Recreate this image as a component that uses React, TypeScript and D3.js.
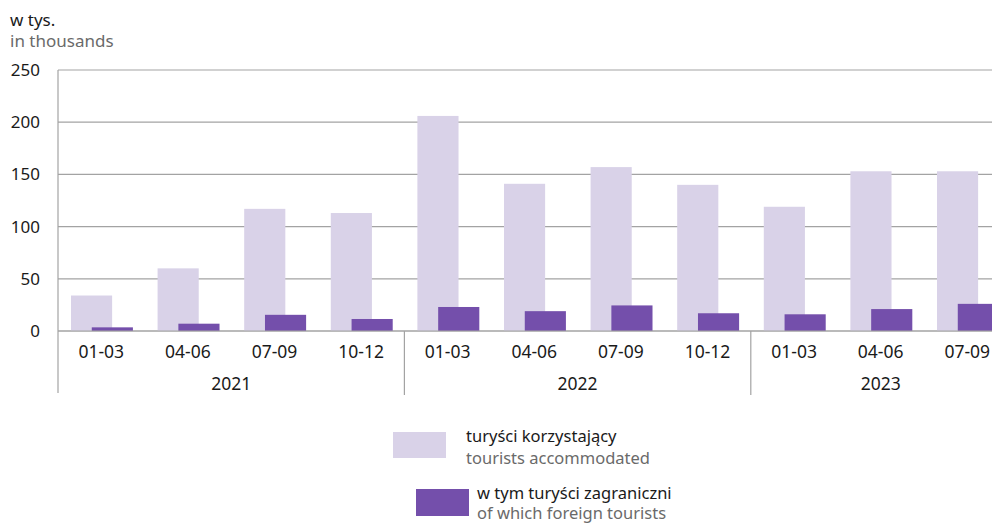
import * as d3 from "d3";
import React from "react";

const years = ["2021", "2022", "2023"];
const quarters = [
    ["01-03", "04-06", "07-09", "10-12"],
    ["01-03", "04-06", "07-09", "10-12"],
    ["01-03", "04-06", "07-09"],
];
const accommodated = [34, 60, 117, 113, 206, 141, 157, 140, 119, 153, 153];
const foreign = [3.5, 7, 15.5, 11.5, 23, 19, 24.5, 17, 16, 21, 26];
const yTicks = [0, 50, 100, 150, 200, 250];

const LIGHT = "#d9d2e8";
const DARK = "#744fab";
const GRID = "#a3a3a3";
const FONT = "'Noto Sans', sans-serif";

function App() {
    const width = 992;
    const height = 524;
    const left = 58;
    const top = 70;
    const bottom = 331;
    const bandW = 86.6;

    const keys = [];
    years.forEach((y, i) => quarters[i].forEach((q) => keys.push(`${y}|${q}`)));

    const xScale = d3
        .scaleBand()
        .domain(keys)
        .range([left, left + keys.length * bandW])
        .padding(0);

    const yScale = d3.scaleLinear().domain([0, 250]).range([bottom, top]);

    const bw = xScale.bandwidth();
    const barW = bw * 0.475;

    // start / end of each year group
    let idx = 0;
    const groups = years.map((y, i) => {
        const start = xScale(keys[idx]);
        idx += quarters[i].length;
        const end = start + quarters[i].length * bw;
        return { year: y, start, end };
    });

    return (
        <svg
            width={width}
            height={height}
            style={{ position: "absolute", left: 0, top: 0, background: "#fff" }}
            fontFamily={FONT}
        >
            <text x={10} y={26} fontSize={17} fill="#1a1a1a">w tys.</text>
            <text x={10} y={47} fontSize={17} fill="#6a6a6a">in thousands</text>

            {yTicks.map((t) => (
                <g key={t}>
                    <line x1={left} x2={width} y1={yScale(t)} y2={yScale(t)} stroke={GRID} strokeWidth={1.2} />
                    <text x={40} y={yScale(t)} dy="0.35em" textAnchor="end" fontSize={17} fill="#1a1a1a">
                        {t}
                    </text>
                </g>
            ))}

            {keys.map((k, i) => (
                <rect
                    key={"a" + k}
                    x={xScale(k) + bw * 0.15}
                    y={yScale(accommodated[i])}
                    width={barW}
                    height={bottom - yScale(accommodated[i])}
                    fill={LIGHT}
                />
            ))}
            {keys.map((k, i) => (
                <rect
                    key={"f" + k}
                    x={xScale(k) + bw * 0.39}
                    y={yScale(foreign[i])}
                    width={barW}
                    height={bottom - yScale(foreign[i])}
                    fill={DARK}
                />
            ))}

            <line x1={left} x2={width} y1={bottom} y2={bottom} stroke={GRID} strokeWidth={1.2} />
            <line x1={left} x2={left} y1={top} y2={393} stroke={GRID} strokeWidth={1.2} />

            {groups.slice(1).map((g) => (
                <line key={g.year} x1={g.start} x2={g.start} y1={bottom} y2={395} stroke={GRID} strokeWidth={1.2} />
            ))}

            {keys.map((k) => (
                <text
                    key={"l" + k}
                    x={xScale(k) + bw / 2}
                    y={358}
                    textAnchor="middle"
                    fontSize={17.5}
                    fill="#1a1a1a"
                >
                    {k.split("|")[1]}
                </text>
            ))}
            {groups.map((g) => (
                <text key={"y" + g.year} x={(g.start + g.end) / 2} y={390} textAnchor="middle" fontSize={17.5} fill="#1a1a1a">
                    {g.year}
                </text>
            ))}

            <rect x={393} y={432} width={53} height={26} fill={LIGHT} />
            <text x={466} y={442} fontSize={16.5} fill="#1a1a1a">turyści korzystający</text>
            <text x={466} y={464} fontSize={16.5} fill="#6a6a6a">tourists accommodated</text>

            <rect x={416} y={489} width={53} height={27} fill={DARK} />
            <text x={477} y={499} fontSize={16.5} fill="#1a1a1a">w tym turyści zagraniczni</text>
            <text x={477} y={519} fontSize={16.5} fill="#6a6a6a">of which foreign tourists</text>
        </svg>
    );
}

export default App;
